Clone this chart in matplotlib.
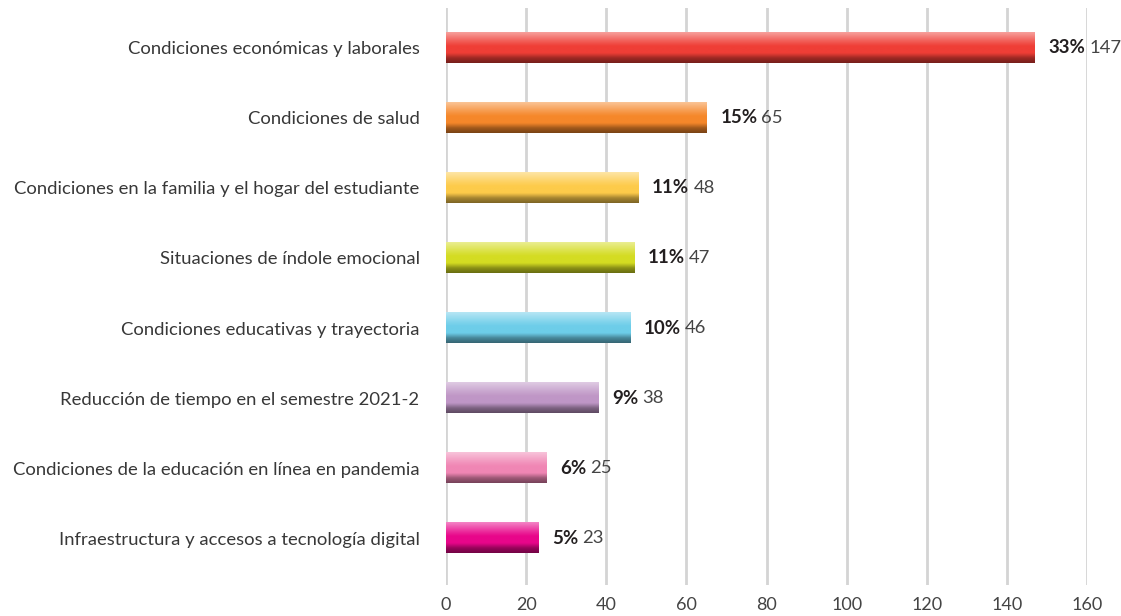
import numpy as np
import matplotlib.pyplot as plt
from matplotlib.colors import to_rgb

categories = [
    "Condiciones económicas y laborales",
    "Condiciones de salud",
    "Condiciones en la familia y el hogar del estudiante",
    "Situaciones de índole emocional",
    "Condiciones educativas y trayectoria",
    "Reducción de tiempo en el semestre 2021-2",
    "Condiciones de la educación en línea en pandemia",
    "Infraestructura y accesos a tecnología digital",
]
values = [147, 65, 48, 47, 46, 38, 25, 23]
pct = [33, 15, 11, 11, 10, 9, 6, 5]
colors = ["#EF3E36", "#F5872A", "#FDCB4A", "#D4DC22",
          "#6DCDE9", "#BF96C6", "#F086B4", "#E8068A"]
xticks = [0, 20, 40, 60, 80, 100, 120, 140, 160]

plt.rcParams['font.family'] = ['Lato', 'DejaVu Sans']

fig = plt.figure(figsize=(11.21, 6.16), dpi=100)
ax = fig.add_axes([446 / 1121, 1 - 585 / 616, (1087 - 446) / 1121, (585 - 8) / 616])

h = 0.43


def gradient(c):
    c = np.array(to_rgb(c))
    white = np.ones(3)
    # top light -> base -> bottom dark
    stops = [(0.0, c * 0.5 + white * 0.5), (0.3, c * 0.85 + white * 0.15),
             (0.45, c), (0.68, c), (0.85, c * 0.65), (1.0, c * 0.5)]
    n = 40
    t = np.linspace(0, 1, n)
    pos = [s[0] for s in stops]
    arr = np.zeros((n, 1, 3))
    for k in range(3):
        arr[:, 0, k] = np.interp(t, pos, [s[1][k] for s in stops])
    return arr


for i, (v, c) in enumerate(zip(values, colors)):
    ax.imshow(gradient(c), extent=[0, v, i + h / 2, i - h / 2],
              aspect='auto', interpolation='bilinear', zorder=2)

ax.set_xlim(0, 160)
ax.set_ylim(7.67, -0.57)
ax.set_xticks(xticks)
ax.set_yticks(range(len(categories)))
ax.set_yticklabels(categories)
ax.tick_params(axis='y', length=0, pad=19, labelsize=13.3, labelcolor='#383838')
ax.tick_params(axis='x', length=0, pad=9, labelsize=13, labelcolor='#444444')
ax.grid(axis='x', color='#d4d4d4', linewidth=2, zorder=0)
ax.set_axisbelow(True)
for s in ax.spines.values():
    s.set_visible(False)

# bold percentage, then the count
pct_texts = []
for i, v in enumerate(values):
    t = ax.annotate(f"{pct[i]}%", (v, i), xytext=(10, 0), textcoords='offset points',
                    va='center', ha='left', fontsize=13.5, fontweight='bold', color='#231f20')
    pct_texts.append(t)

fig.canvas.draw()
inv = ax.transData.inverted()
for i, v in enumerate(values):
    bb = pct_texts[i].get_window_extent()
    x1 = inv.transform((bb.x1 + 4, 0))[0]
    ax.text(x1, i, str(v), va='center', ha='left', fontsize=13.3, color='#444444')

fig.savefig("out.png", dpi=100)
